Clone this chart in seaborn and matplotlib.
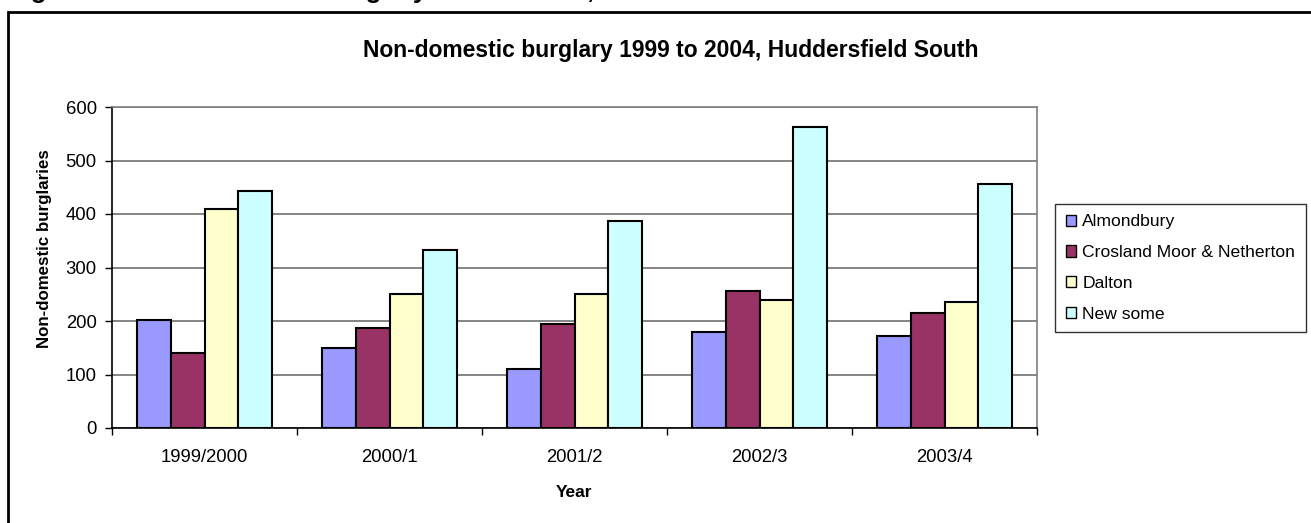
import pandas as pd
import matplotlib.pyplot as plt
import matplotlib.patches as mpatches
import seaborn as sns

# Datos
years = ['1999/2000', '2000/1', '2001/2', '2002/3', '2003/4']
almondbury = [202, 150, 111, 179, 172]
crosland = [140, 186, 195, 257, 215]
dalton = [410, 251, 251, 240, 235]
new_some = [443, 332, 387, 563, 456]
wards = ['Almondbury', 'Crosland Moor & Netherton', 'Dalton', 'New some']
colores = ['#9999FF', '#993366', '#FFFFCC', '#CCFFFF']

df = pd.DataFrame({
    'year': years * 4,
    'ward': [w for w in wards for _ in years],
    'burglaries': almondbury + crosland + dalton + new_some,
})

sns.set_style('white')
plt.rcParams['font.family'] = ['Liberation Sans', 'DejaVu Sans']
plt.rcParams['text.color'] = 'black'
plt.rcParams['axes.labelcolor'] = 'black'
plt.rcParams['xtick.color'] = 'black'
plt.rcParams['ytick.color'] = 'black'

fig = plt.figure(figsize=(13.11, 5.23), dpi=100)
ax = fig.add_axes([112 / 1311, 1 - 428 / 523, 925 / 1311, 321 / 523])

sns.barplot(data=df, x='year', y='burglaries', hue='ward', palette=colores,
            edgecolor='black', linewidth=1.5, width=0.725, gap=0,
            saturation=1, ax=ax, zorder=3)

ax.set_ylim(0, 600)
ax.set_xlim(-0.5, 4.5)
ax.set_yticks(range(0, 601, 100))
ax.yaxis.grid(True, color='#707070', linewidth=1.2, zorder=0)
ax.set_axisbelow(True)

for s in ['top', 'right']:
    ax.spines[s].set_color('#808080')
    ax.spines[s].set_linewidth(1.2)
for s in ['left', 'bottom']:
    ax.spines[s].set_color('black')
    ax.spines[s].set_linewidth(1.2)

ax.tick_params(axis='y', length=5, width=1, color='black', pad=6, labelsize=13.3, left=True)
ax.tick_params(axis='x', which='major', length=0, pad=15, labelsize=13.3)
ax.set_xticks([i + 0.5 for i in range(-1, 5)], minor=True)
ax.tick_params(axis='x', which='minor', length=5, width=1, color='black', bottom=True)

ax.set_xlabel('Year', fontsize=12.5, fontweight='bold', labelpad=14)
ax.set_ylabel('Non-domestic burglaries', fontsize=12.2, fontweight='bold')
ax.yaxis.set_label_coords(-0.065, 0.558)

leg = ax.legend(loc='center left', bbox_to_anchor=(1055 / 1311, 1 - 268 / 523),
                bbox_transform=fig.transFigure, fontsize=12.6, frameon=True,
                fancybox=False, edgecolor='black', handlelength=0.6, handleheight=0.6,
                handletextpad=0.35, borderpad=0.6, labelspacing=0.9,
                borderaxespad=0)
leg.get_frame().set_linewidth(1)
for h in leg.legend_handles:
    h.set_edgecolor('black')
    h.set_linewidth(1)

fig.text(671 / 1311, 1 - 50 / 523, 'Non-domestic burglary 1999 to 2004, Huddersfield South',
         ha='center', va='center', fontsize=16.5, fontweight='bold')

# Pie de figura cortado en la parte superior
fig.text(8 / 1311, 1 + 2 / 523, 'Figure 8.3: Non-domestic burglary 1999 to 2004, Huddersfield South',
         ha='left', va='baseline', fontsize=18.5, fontweight='bold')

# Marco exterior del gráfico
fig.patches.append(mpatches.Rectangle((8 / 1311, -0.05), 1.1, 1 - 12 / 523 + 0.05,
                                      transform=fig.transFigure, fill=False,
                                      edgecolor='black', linewidth=2))

fig.savefig('out.png', dpi=100)
